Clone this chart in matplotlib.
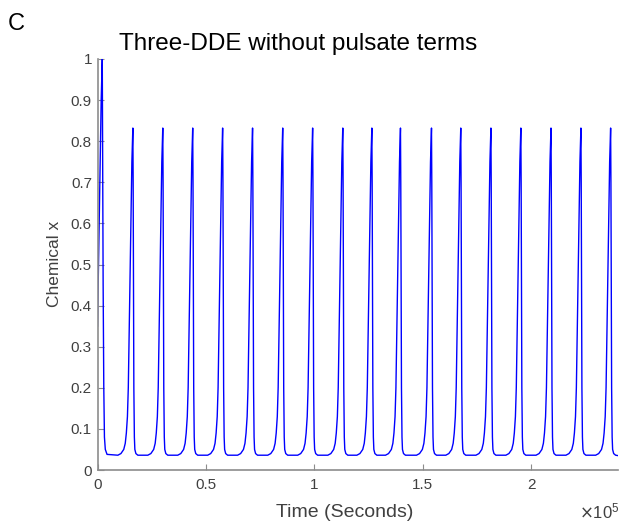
import matplotlib
matplotlib.use('Agg')
import matplotlib.pyplot as plt

plt.rcParams['font.family'] = ['Liberation Sans', 'DejaVu Sans']

# ---- data ----
# times (s) of the regular spikes
peak_times = [16300, 30100, 43900, 57700, 71500, 85400, 99200, 113100, 126500,
              139700, 154000, 167500, 181400, 195200, 209100, 222900, 236600]
baseline = 0.035
# shape of one regular spike: offsets (s) from the peak time and values
rise_offsets = [-6900, -5500, -4200, -3500, -3000, -2500, -2100, -1500, -900, -450, 0]
rise_values = [0.036, 0.040, 0.050, 0.065, 0.090, 0.130, 0.200, 0.400, 0.600, 0.750, 0.832]
fall_offsets = [140, 280, 460, 700, 920, 1400, 2300]
fall_values = [0.70, 0.45, 0.20, 0.08, 0.05, 0.040, 0.036]
# initial transient spike
first_times = [0, 600, 1200, 1700, 2200, 2400, 2600, 2900, 3200, 3600, 4400]
first_values = [0.35, 0.55, 0.75, 0.90, 1.00, 0.75, 0.45, 0.20, 0.08, 0.05, 0.038]
t_end = 240000

xticks = [0, 50000, 100000, 150000, 200000]
xtick_labels = ['0', '0.5', '1', '1.5', '2']
yticks = [0, 0.1, 0.2, 0.3, 0.4, 0.5, 0.6, 0.7, 0.8, 0.9, 1.0]
ytick_labels = ['0', '0.1', '0.2', '0.3', '0.4', '0.5', '0.6', '0.7', '0.8', '0.9', '1']

# ---- assemble series ----
t = list(first_times)
x = list(first_values)
for p in peak_times:
    t += [p + o for o in rise_offsets] + [p + o for o in fall_offsets]
    x += rise_values + fall_values
t.append(t_end)
x.append(baseline)

W, H = 623, 523
fig = plt.figure(figsize=(W / 100, H / 100), dpi=100)
ax = fig.add_axes([97.5 / W, 1 - 470 / H, (618 - 97.5) / W, (470 - 59) / H])

ax.plot(t, x, color='#0000ff', lw=1.0)
ax.set_xlim(0, t_end)
ax.set_ylim(0, 1)

axis_col = '#8c8c8c'
for s in ['top', 'right']:
    ax.spines[s].set_visible(False)
for s in ['left', 'bottom']:
    ax.spines[s].set_color(axis_col)
    ax.spines[s].set_linewidth(1.2)

ax.set_xticks(xticks)
ax.set_xticklabels(xtick_labels)
ax.set_yticks(yticks)
ax.set_yticklabels(ytick_labels)
ax.tick_params(direction='in', length=4, width=0.8, colors=axis_col,
               labelcolor='#404040', labelsize=11)
ax.tick_params(axis='x', pad=6)
ax.tick_params(axis='y', pad=4)

fig.text(54.5 / W, 1 - 263.5 / H, 'Chemical x', rotation=90, ha='center', va='center',
         fontsize=12.5, color='#404040')
fig.text(345 / W, 1 - 517 / H, 'Time (Seconds)', ha='center', va='baseline',
         fontsize=14, color='#404040')
fig.text(620 / W, 1 - 518 / H, r'$\times\mathregular{10^{5}}$', ha='right', va='baseline',
         fontsize=12, color='#404040')

fig.text(298 / W, 1 - 50 / H, 'Three-DDE without pulsate terms', ha='center', va='baseline',
         fontsize=17.5, color='black')
fig.text(8 / W, 1 - 30 / H, 'C', ha='left', va='baseline', fontsize=17, color='black')

fig.savefig('out.png', dpi=100)
